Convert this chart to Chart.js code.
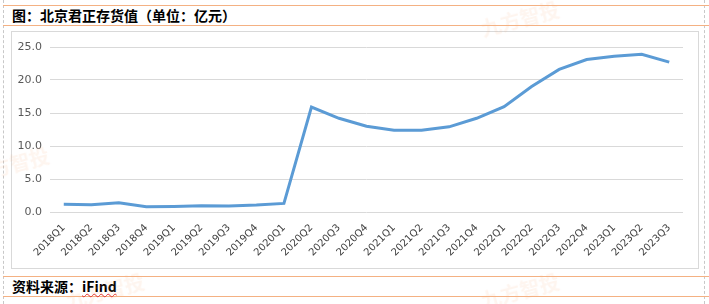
<!DOCTYPE html>
<html>
<head>
<meta charset="utf-8">
<script src="https://cdn.jsdelivr.net/npm/chart.js@4.4.0/dist/chart.umd.min.js"></script>
<style>
  body { margin: 0; background: #fff; width: 709px; height: 304px; overflow: hidden; position: relative; font-family: "Noto Sans CJK SC", sans-serif; }
  .vline { position: absolute; top: 0; height: 304px; border-left: 1px dashed #c8c8c8; }
  .hline { position: absolute; left: 3px; width: 706px; border-top: 1px solid #f4b183; }
  #title { position: absolute; left: 12px; top: 6px; font-size: 14px; font-weight: bold; color: #000; line-height: 19px; }
  #source { position: absolute; left: 12px; top: 277px; font-size: 14px; font-weight: bold; color: #000; line-height: 19px; }
  #source span { text-decoration: underline wavy #e03030; text-decoration-thickness: 1px; }
  #box { position: absolute; left: 11px; top: 31px; width: 686px; height: 236px; border: 1px solid #d9d9d9; }
  #wrap { position: absolute; left: 11px; top: 31px; width: 688px; height: 238px; }
  .wm { position: absolute; font-size: 20px; font-weight: bold; color: rgba(248, 170, 120, 0.12); transform: rotate(-15deg); white-space: nowrap; }
</style>
</head>
<body>
<div class="vline" style="left:3px"></div>
<div class="vline" style="left:704px"></div>
<div class="hline" style="top:5px"></div>
<div class="hline" style="top:25px"></div>
<div class="hline" style="top:276px"></div>
<div class="hline" style="top:296px"></div>
<div id="title">图：北京君正存货值（单位：亿元）</div>
<div id="box"></div>
<div id="wrap"><canvas id="inventoryChart" width="688" height="238"></canvas></div>
<div id="source">资料来源：<span>iFind</span></div>
<div class="wm" style="left:480px; top:4px;">九方智投</div>
<div class="wm" style="left:-30px; top:150px;">九方智投</div>
<div class="wm" style="left:65px; top:276px;">九方智投</div>
<div class="wm" style="left:480px; top:276px;">九方智投</div>
<script>
const quarters = ["2018Q1", "2018Q2", "2018Q3", "2018Q4", "2019Q1", "2019Q2", "2019Q3", "2019Q4",
    "2020Q1", "2020Q2", "2020Q3", "2020Q4", "2021Q1", "2021Q2", "2021Q3", "2021Q4",
    "2022Q1", "2022Q2", "2022Q3", "2022Q4", "2023Q1", "2023Q2", "2023Q3"];

const inventory = [1.16, 1.1, 1.4, 0.8, 0.85, 0.95, 0.9, 1.05,
    1.3, 15.9, 14.2, 13.0, 12.4, 12.4, 12.9, 14.2,
    15.96, 19.0, 21.6, 23.1, 23.6, 23.9, 22.7];

const yTicks = [0, 5, 10, 15, 20, 25];

const ctx = document.getElementById("inventoryChart").getContext("2d");

const chart = new Chart(ctx, {
    type: "line",
    data: {
        labels: quarters,
        datasets: [{
            label: "存货值",
            data: inventory,
            borderColor: "#5b9bd5",
            borderWidth: 3,
            pointRadius: 0,
            tension: 0,
            fill: false
        }]
    },
    options: {
        responsive: false,
        animation: false,
        layout: { padding: { top: 16, right: 16, left: 0, bottom: 0 } },
        plugins: {
            legend: { display: false },
            tooltip: { enabled: false }
        },
        scales: {
            x: {
                offset: true,
                grid: { display: false },
                border: { display: false },
                ticks: {
                    minRotation: 45,
                    maxRotation: 45,
                    autoSkip: false,
                    color: "#404040",
                    padding: 2,
                    font: { family: "DejaVu Sans", size: 10 }
                },
                afterFit: function(scale) { scale.height = 57; }
            },
            y: {
                min: 0,
                max: 25,
                afterBuildTicks: function(scale) {
                    scale.ticks = yTicks.map(v => ({ value: v }));
                },
                grid: { color: "#d9d9d9", drawTicks: false },
                border: { display: false },
                ticks: {
                    color: "#595959",
                    padding: 8,
                    font: { family: "DejaVu Sans", size: 11 },
                    callback: v => v.toFixed(1)
                },
                afterFit: function(scale) { scale.width = 39; }
            }
        }
    }
});
</script>
</body>
</html>
